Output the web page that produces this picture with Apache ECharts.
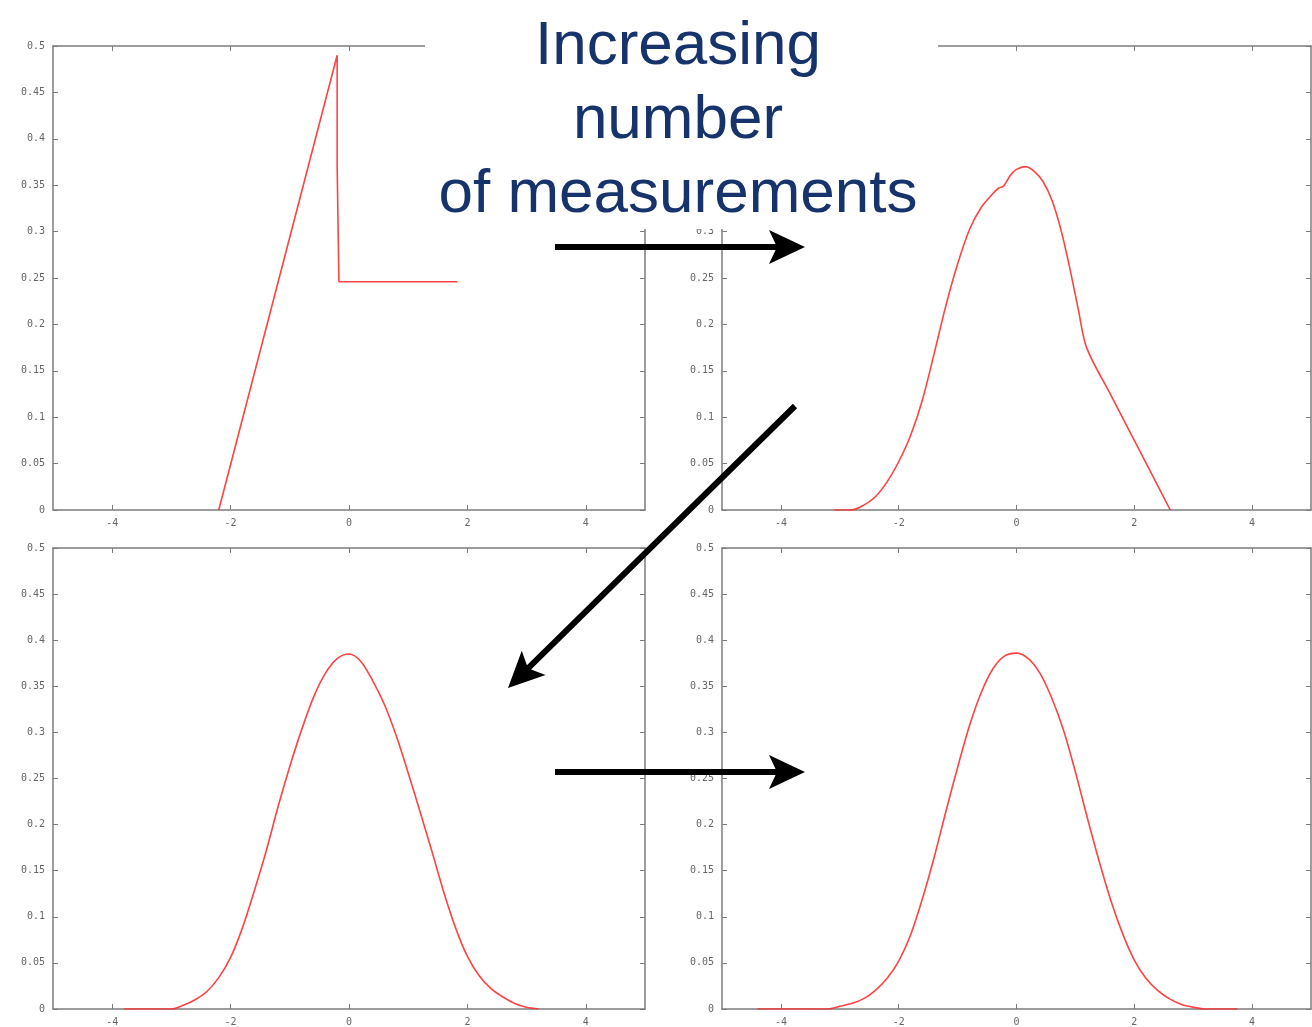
<!DOCTYPE html>
<html>
<head>
<meta charset="utf-8">
<script src="https://cdn.jsdelivr.net/npm/echarts@6/dist/echarts.min.js"></script>
<style>
  html, body { margin: 0; padding: 0; background: #ffffff; }
  #chart { width: 1312px; height: 1027px; }
</style>
</head>
<body>
<div id="chart"></div>
<script>
// Tick values shared by all four panels
const xTicks = [-4, -2, 0, 2, 4];
const yTicks = [0, 0.05, 0.1, 0.15, 0.2, 0.25, 0.3, 0.35, 0.4, 0.45, 0.5];

// Caption lines
const captionLines = ['Increasing', 'number', 'of measurements'];

// Density estimates, [x, density] pairs
// one measurement: piecewise-linear estimate
const densityOne = [
  [-2.2, 0], [-0.2, 0.49], [-0.2, 0.37], [-0.17, 0.37], [-0.17, 0.246], [1.83, 0.246]
];
// a few measurements: lumpy estimate
const densityFew = [
  [-3.1, 0], [-2.8, 0], [-2.6, 0.005], [-2.4, 0.014], [-2.2, 0.03], [-2.0, 0.052],
  [-1.8, 0.08], [-1.6, 0.118], [-1.4, 0.168], [-1.2, 0.22], [-1.0, 0.265],
  [-0.8, 0.302], [-0.6, 0.326], [-0.4, 0.341], [-0.3, 0.347], [-0.22, 0.349],
  [-0.1, 0.361], [0.0, 0.367], [0.15, 0.37], [0.3, 0.365], [0.45, 0.354],
  [0.6, 0.334], [0.75, 0.303], [0.9, 0.262], [1.05, 0.216], [1.19, 0.175],
  [1.6, 0.124], [2.0, 0.075], [2.4, 0.026], [2.61, 0]
];
// many measurements
const densityMany = [
  [-3.8, 0], [-3.0, 0], [-2.8, 0.004], [-2.6, 0.01], [-2.4, 0.019], [-2.2, 0.034],
  [-2.0, 0.056], [-1.8, 0.088], [-1.6, 0.128], [-1.4, 0.171], [-1.2, 0.219],
  [-1.0, 0.263], [-0.8, 0.303], [-0.6, 0.338], [-0.4, 0.364], [-0.2, 0.38],
  [0, 0.385], [0.2, 0.377], [0.4, 0.356], [0.6, 0.33], [0.8, 0.296],
  [1.0, 0.256], [1.2, 0.214], [1.4, 0.171], [1.6, 0.127], [1.8, 0.088],
  [2.0, 0.057], [2.2, 0.036], [2.4, 0.022], [2.6, 0.013], [2.8, 0.006],
  [3.0, 0.002], [3.2, 0]
];
// most measurements
const densityMost = [
  [-4.4, 0], [-3.2, 0], [-3.0, 0.003], [-2.8, 0.006], [-2.6, 0.011], [-2.4, 0.02],
  [-2.2, 0.033], [-2.0, 0.052], [-1.8, 0.08], [-1.6, 0.119], [-1.4, 0.164],
  [-1.2, 0.214], [-1.0, 0.262], [-0.8, 0.307], [-0.6, 0.343], [-0.4, 0.369],
  [-0.2, 0.383], [0, 0.386], [0.2, 0.38], [0.4, 0.364], [0.6, 0.337],
  [0.8, 0.302], [1.0, 0.257], [1.2, 0.208], [1.4, 0.161], [1.6, 0.118],
  [1.8, 0.082], [2.0, 0.053], [2.2, 0.033], [2.4, 0.02], [2.6, 0.011],
  [2.8, 0.005], [3.0, 0.002], [3.2, 0], [3.75, 0]
];

const panels = [
  { data: densityOne,  smooth: false, box: { left: 53,  top: 46,  width: 592, height: 464 } },
  { data: densityFew,  smooth: 0.3,   box: { left: 722, top: 46,  width: 589, height: 464 } },
  { data: densityMany, smooth: 0.3,   box: { left: 53,  top: 548, width: 592, height: 464 } },
  { data: densityMost, smooth: 0.3,   box: { left: 722, top: 548, width: 589, height: 464 } }
];

const frameColor = '#7c7c7c';
const labelStyle = { fontFamily: 'DejaVu Sans Mono', fontSize: 10, color: '#666666' };
const curveColor = '#ff2e2e';

const grids = [], xAxes = [], yAxes = [], series = [];
panels.forEach((p, i) => {
  grids.push(Object.assign({ containLabel: false }, p.box));
  [['bottom', true], ['top', false]].forEach(([pos, labels]) => {
    xAxes.push({
      type: 'value', gridIndex: i, position: pos, min: -5, max: 5,
      axisLine: { show: true, onZero: false, lineStyle: { color: frameColor, width: 1.5 } },
      axisTick: { show: true, inside: true, length: 5, customValues: xTicks,
                  lineStyle: { color: frameColor, width: 1 } },
      axisLabel: Object.assign({ show: labels, margin: 8, customValues: xTicks }, labelStyle),
      splitLine: { show: false }
    });
  });
  [['left', true], ['right', false]].forEach(([pos, labels]) => {
    yAxes.push({
      type: 'value', gridIndex: i, position: pos, min: 0, max: 0.5,
      axisLine: { show: true, onZero: false, lineStyle: { color: frameColor, width: 1.5 } },
      axisTick: { show: true, inside: true, length: 5, customValues: yTicks,
                  lineStyle: { color: frameColor, width: 1 } },
      axisLabel: Object.assign({
        show: labels, margin: 8, customValues: yTicks,
        formatter: v => String(parseFloat(Number(v).toFixed(2)))
      }, labelStyle),
      splitLine: { show: false }
    });
  });
  series.push({
    type: 'line', xAxisIndex: 2 * i, yAxisIndex: 2 * i,
    data: p.data, smooth: p.smooth, showSymbol: false, symbol: 'none',
    lineStyle: { color: curveColor, width: 1.6, opacity: 0.9 },
    clip: true, z: 3
  });
});

// Thick arrow outline with a notched head
function arrowPoints(x1, y1, x2, y2) {
  const w = 6, headLen = 36, half = 17, notch = 8;
  const L = Math.hypot(x2 - x1, y2 - y1);
  const ux = (x2 - x1) / L, uy = (y2 - y1) / L;
  const nx = -uy, ny = ux;
  const bx = x2 - headLen * ux, by = y2 - headLen * uy;          // back of head
  const kx = x2 - (headLen - notch) * ux, ky = y2 - (headLen - notch) * uy; // notch
  const t = (w / 2) / half;
  const c1 = [bx + half * nx, by + half * ny];
  const c2 = [bx - half * nx, by - half * ny];
  const j1 = [kx + t * (c1[0] - kx), ky + t * (c1[1] - ky)];
  const j2 = [kx + t * (c2[0] - kx), ky + t * (c2[1] - ky)];
  return [
    [x1 + nx * w / 2, y1 + ny * w / 2], j1, c1, [x2, y2], c2, j2,
    [x1 - nx * w / 2, y1 - ny * w / 2]
  ];
}

const arrows = [
  [555, 247, 805, 247],
  [795, 406, 508, 688],
  [555, 772, 805, 772]
];

const graphic = [
  { type: 'rect', shape: { x: 425, y: 0, width: 513, height: 229 },
    style: { fill: '#ffffff' }, z: 100, silent: true }
];
const captionY = [47, 121, 195];
captionLines.forEach((line, i) => {
  graphic.push({
    type: 'text', x: 678, y: captionY[i], z: 101, silent: true,
    style: {
      text: line, fill: '#17336b', align: 'center', verticalAlign: 'middle',
      font: '62px "Liberation Sans", Arial, sans-serif'
    }
  });
});
arrows.forEach(a => {
  graphic.push({
    type: 'polygon', z: 102, silent: true,
    shape: { points: arrowPoints(a[0], a[1], a[2], a[3]) },
    style: { fill: '#000000' }
  });
});

const chart = echarts.init(document.getElementById('chart'), null, { renderer: 'canvas' });
chart.setOption({
  animation: false,
  backgroundColor: '#ffffff',
  grid: grids,
  xAxis: xAxes,
  yAxis: yAxes,
  series: series,
  graphic: graphic
});
</script>
</body>
</html>
